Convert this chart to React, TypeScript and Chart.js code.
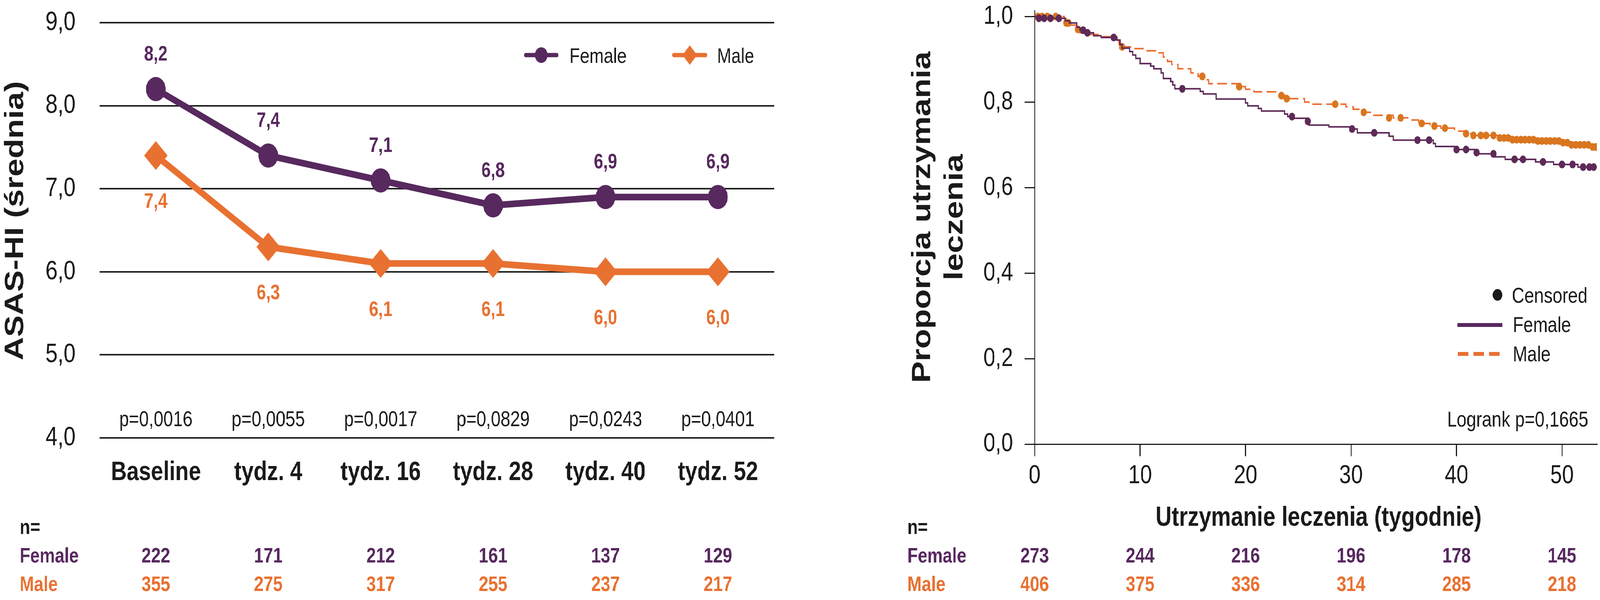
import React, { useEffect, useRef } from 'react';
import { Chart, registerables } from 'chart.js';

Chart.register(...registerables);

// ---------------- Left chart data ----------------
const categories = ['Baseline', 'tydz. 4', 'tydz. 16', 'tydz. 28', 'tydz. 40', 'tydz. 52'];
const femaleMean = [8.2, 7.4, 7.1, 6.8, 6.9, 6.9];
const maleMean = [7.4, 6.3, 6.1, 6.1, 6.0, 6.0];
const pValues = ['p=0,0016', 'p=0,0055', 'p=0,0017', 'p=0,0829', 'p=0,0243', 'p=0,0401'];
const femaleN = [222, 171, 212, 161, 137, 129];
const maleN = [355, 275, 317, 255, 237, 217];
const leftYTicks = [4, 5, 6, 7, 8, 9];

// ---------------- Right chart (Kaplan-Meier) data ----------------
const kmXTicks = [0, 10, 20, 30, 40, 50];
const kmYTicks = [0, 0.2, 0.4, 0.6, 0.8, 1.0];
const kmFemaleAtRisk = [273, 244, 216, 196, 178, 145];
const kmMaleAtRisk = [406, 375, 336, 314, 285, 218];

const femaleKmTime = [0, 0.5, 2.9, 3.3, 4.0, 4.3, 5.0, 5.6, 6.3, 7.8, 8.1, 8.3, 9.0, 9.3, 9.6, 10.0, 11.0, 11.3, 12.0, 12.2, 12.9, 13.1, 13.3, 15.7, 16.0, 17.2, 20.0, 20.2, 21.2, 21.5, 23.7, 24.0, 24.6, 25.8, 26.0, 27.9, 30.0, 30.6, 33.6, 34.0, 37.8, 38.0, 39.8, 41.7, 42.0, 43.6, 44.6, 47.5, 49.2, 51.5, 53.3];
const femaleKmSurv = [1.0, 0.996, 0.99, 0.985, 0.975, 0.968, 0.962, 0.955, 0.951, 0.945, 0.935, 0.926, 0.918, 0.91, 0.902, 0.89, 0.884, 0.878, 0.868, 0.855, 0.848, 0.84, 0.831, 0.825, 0.819, 0.807, 0.798, 0.791, 0.785, 0.779, 0.772, 0.766, 0.762, 0.755, 0.746, 0.742, 0.737, 0.728, 0.72, 0.711, 0.703, 0.696, 0.689, 0.682, 0.679, 0.672, 0.666, 0.66, 0.654, 0.648, 0.648];
const femaleCensorTime = [0.4, 0.9, 1.5, 2.3, 4.6, 5.0, 7.5, 14.0, 24.4, 25.9, 30.1, 32.2, 36.3, 37.4, 40.0, 40.9, 41.9, 43.5, 45.5, 46.3, 48.2, 50.0, 51.0, 52.0, 52.6, 53.0];
const femaleCensorSurv = [0.996, 0.996, 0.996, 0.996, 0.968, 0.962, 0.951, 0.831, 0.766, 0.755, 0.737, 0.728, 0.711, 0.711, 0.689, 0.689, 0.682, 0.679, 0.666, 0.666, 0.66, 0.654, 0.654, 0.648, 0.648, 0.648];

const maleKmTime = [0, 2.8, 3.0, 3.4, 4.0, 4.3, 5.0, 6.0, 7.8, 8.0, 8.4, 9.2, 10.4, 11.8, 12.2, 12.6, 13.0, 13.6, 14.8, 15.5, 16.0, 16.5, 19.5, 20.0, 20.8, 23.3, 23.8, 25.6, 26.0, 29.5, 30.2, 31.0, 32.0, 34.0, 35.5, 36.4, 37.5, 38.5, 39.8, 41.0, 41.4, 44.0, 45.2, 47.5, 49.8, 50.6, 52.2, 53.3];
const maleKmSurv = [1.0, 0.995, 0.985, 0.98, 0.97, 0.962, 0.958, 0.953, 0.945, 0.935, 0.929, 0.925, 0.92, 0.915, 0.905, 0.895, 0.888, 0.878, 0.868, 0.86, 0.852, 0.843, 0.836, 0.83, 0.824, 0.815, 0.808, 0.8, 0.795, 0.789, 0.783, 0.776, 0.769, 0.763, 0.758, 0.75, 0.744, 0.739, 0.732, 0.726, 0.722, 0.716, 0.712, 0.709, 0.705, 0.7, 0.695, 0.695];
const maleCensorTime = [0.3, 0.7, 1.2, 2.0, 3.0, 3.2, 4.1, 8.3, 15.9, 19.4, 23.4, 23.9, 28.5, 31.2, 33.6, 34.7, 36.7, 37.9, 38.9, 40.9, 41.6, 42.3, 42.8, 43.5, 44.1, 44.5, 44.9, 45.3, 45.7, 46.1, 46.5, 46.9, 47.3, 47.7, 48.1, 48.5, 48.9, 49.3, 49.7, 50.1, 50.5, 50.9, 51.3, 51.7, 52.1, 52.5, 52.9, 53.2];
const maleCensorSurv = [1.0, 1.0, 1.0, 1.0, 0.985, 0.985, 0.97, 0.929, 0.86, 0.836, 0.815, 0.808, 0.795, 0.776, 0.763, 0.763, 0.75, 0.744, 0.739, 0.726, 0.722, 0.722, 0.722, 0.722, 0.716, 0.716, 0.716, 0.712, 0.712, 0.712, 0.712, 0.712, 0.712, 0.709, 0.709, 0.709, 0.709, 0.709, 0.709, 0.705, 0.705, 0.7, 0.7, 0.7, 0.7, 0.7, 0.695, 0.695];

// ---------------- Styling ----------------
const FONT = '"Liberation Sans", Arial, Helvetica, sans-serif';
const PURPLE = '#57295E';
const ORANGE = '#E87131';
const KM_PURPLE = '#5E2A58';
const KM_ORANGE = '#EE6A2B';
const KM_ORANGE_MARK = '#D9761F';
const INK = '#1a1a1a';

// reference canvas size (all layout below is in this space)
const W = 5043;
const H = 1536;
const LEFT_W = 2520;
const RIGHT_X = 2560;
const RIGHT_W = W - RIGHT_X;

const fmt1 = (v: number) => Number(v).toFixed(1).replace('.', ',');
const f = (size: number, weight: string = 'normal') => `${weight} ${size}px ${FONT}`;

// ---------------- Left chart plugin ----------------
const leftDecor = {
  id: 'leftDecor',
  afterDatasetsDraw(chart: any) {
    const ctx = chart.ctx as CanvasRenderingContext2D;
    const xs = chart.scales.x;
    const ys = chart.scales.y;
    const bottom = chart.chartArea.bottom;
    ctx.save();
    ctx.textAlign = 'center';
    ctx.textBaseline = 'alphabetic';
    // data labels
    ctx.font = f(53, 'bold');
    ctx.fillStyle = PURPLE;
    femaleMean.forEach((v, i) => ctx.fillText(fmt1(v), xs.getPixelForValue(i), ys.getPixelForValue(v) - 73));
    ctx.fillStyle = ORANGE;
    maleMean.forEach((v, i) => ctx.fillText(fmt1(v), xs.getPixelForValue(i), ys.getPixelForValue(v) + 134));
    // p values
    ctx.font = f(55);
    ctx.fillStyle = INK;
    pValues.forEach((p, i) => ctx.fillText(p, xs.getPixelForValue(i), bottom - 30));
    // n table
    ctx.textAlign = 'left';
    ctx.font = f(54, 'bold');
    ctx.fillStyle = INK;
    ctx.fillText('n=', 62, 1367);
    ctx.fillStyle = PURPLE;
    ctx.fillText('Female', 62, 1440);
    ctx.fillStyle = ORANGE;
    ctx.fillText('Male', 62, 1513);
    ctx.textAlign = 'center';
    ctx.fillStyle = PURPLE;
    femaleN.forEach((n, i) => ctx.fillText(String(n), xs.getPixelForValue(i), 1440));
    ctx.fillStyle = ORANGE;
    maleN.forEach((n, i) => ctx.fillText(String(n), xs.getPixelForValue(i), 1513));
    // legend
    const ly = 141;
    ctx.lineCap = 'round';
    ctx.lineWidth = 11;
    ctx.strokeStyle = PURPLE;
    ctx.beginPath(); ctx.moveTo(1657, ly); ctx.lineTo(1755, ly); ctx.stroke();
    ctx.fillStyle = PURPLE;
    ctx.beginPath(); ctx.arc(1706, ly, 20, 0, Math.PI * 2); ctx.fill();
    ctx.strokeStyle = ORANGE;
    ctx.beginPath(); ctx.moveTo(2124, ly); ctx.lineTo(2224, ly); ctx.stroke();
    ctx.fillStyle = ORANGE;
    ctx.beginPath();
    ctx.moveTo(2174, ly - 25); ctx.lineTo(2197, ly); ctx.lineTo(2174, ly + 25); ctx.lineTo(2151, ly); ctx.closePath(); ctx.fill();
    ctx.textAlign = 'left';
    ctx.font = f(54);
    ctx.fillStyle = INK;
    ctx.fillText('Female', 1795, 161);
    ctx.fillText('Male', 2260, 161);
    // y title
    ctx.save();
    ctx.translate(73, 565);
    ctx.rotate(-Math.PI / 2);
    ctx.textAlign = 'center';
    ctx.font = f(83, 'bold');
    ctx.fillStyle = INK;
    ctx.fillText('ASAS-HI (średnia)', 0, 0);
    ctx.restore();
    ctx.restore();
  },
};

// ---------------- Right chart plugin ----------------
const rightDecor = {
  id: 'rightDecor',
  afterDraw(chart: any) {
    const ctx = chart.ctx as CanvasRenderingContext2D;
    const xs = chart.scales.x;
    const ox = RIGHT_X;
    ctx.save();
    // y title (two lines)
    ctx.save();
    ctx.translate(0, 556);
    ctx.rotate(-Math.PI / 2);
    ctx.textAlign = 'center';
    ctx.textBaseline = 'alphabetic';
    ctx.font = f(83, 'bold');
    ctx.fillStyle = INK;
    ctx.fillText('Proporcja utrzymania', 0, 2932 - ox);
    ctx.fillText('leczenia', 0, 3034 - ox);
    ctx.restore();
    // x title
    ctx.textAlign = 'center';
    ctx.textBaseline = 'alphabetic';
    ctx.font = f(70, 'bold');
    ctx.fillStyle = INK;
    ctx.fillText('Utrzymanie leczenia (tygodnie)', 4156 - ox, 1346);
    // legend
    ctx.fillStyle = INK;
    ctx.beginPath(); ctx.arc(4720 - ox, 755, 15, 0, Math.PI * 2); ctx.fill();
    ctx.lineCap = 'butt';
    ctx.lineWidth = 10;
    ctx.strokeStyle = PURPLE;
    ctx.beginPath(); ctx.moveTo(4594 - ox, 832); ctx.lineTo(4735 - ox, 832); ctx.stroke();
    ctx.strokeStyle = ORANGE;
    ctx.setLineDash([33, 16]);
    ctx.beginPath(); ctx.moveTo(4595 - ox, 906); ctx.lineTo(4730 - ox, 906); ctx.stroke();
    ctx.setLineDash([]);
    ctx.textAlign = 'left';
    ctx.font = f(55);
    ctx.fillStyle = INK;
    ctx.fillText('Censored', 4765 - ox, 775);
    ctx.fillText('Female', 4768 - ox, 850);
    ctx.fillText('Male', 4768 - ox, 925);
    ctx.textAlign = 'right';
    ctx.fillText('Logrank p=0,1665', 5006 - ox, 1092);
    // n table
    ctx.textAlign = 'left';
    ctx.font = f(54, 'bold');
    ctx.fillStyle = INK;
    ctx.fillText('n=', 2860 - ox, 1367);
    ctx.fillStyle = PURPLE;
    ctx.fillText('Female', 2860 - ox, 1440);
    ctx.fillStyle = ORANGE;
    ctx.fillText('Male', 2860 - ox, 1513);
    ctx.textAlign = 'center';
    ctx.fillStyle = PURPLE;
    kmFemaleAtRisk.forEach((n, i) => ctx.fillText(String(n), xs.getPixelForValue(kmXTicks[i]), 1440));
    ctx.fillStyle = ORANGE;
    kmMaleAtRisk.forEach((n, i) => ctx.fillText(String(n), xs.getPixelForValue(kmXTicks[i]), 1513));
    ctx.restore();
  },
};

function leftConfig(): any {
  return {
    type: 'line',
    data: {
      labels: categories,
      datasets: [
        { label: 'Female', data: femaleMean, borderColor: PURPLE, backgroundColor: PURPLE, borderWidth: 17, pointStyle: 'circle', pointRadius: 31, pointBackgroundColor: PURPLE, pointBorderColor: PURPLE, pointBorderWidth: 0, tension: 0 },
        { label: 'Male', data: maleMean, borderColor: ORANGE, backgroundColor: ORANGE, borderWidth: 17, pointStyle: 'rectRot', pointRadius: 37, pointBackgroundColor: ORANGE, pointBorderColor: ORANGE, pointBorderWidth: 0, tension: 0 },
      ],
    },
    options: {
      animation: false,
      responsive: false,
      devicePixelRatio: 1,
      events: [],
      layout: { padding: { left: 0, top: 58, right: LEFT_W - 2440, bottom: 0 } },
      plugins: { legend: { display: false }, tooltip: { enabled: false } },
      scales: {
        x: {
          type: 'category',
          offset: true,
          grid: { display: false, drawTicks: false },
          border: { display: false },
          ticks: { font: { family: FONT, size: 69, weight: 'bold' }, color: INK, padding: 48, maxRotation: 0, autoSkip: false },
          afterFit: (s: any) => { s.height = H - 1121; s.paddingLeft = 0; s.paddingRight = 0; },
        },
        y: {
          type: 'linear',
          min: 4,
          max: 9,
          afterBuildTicks: (s: any) => { s.ticks = leftYTicks.map((v) => ({ value: v })); },
          ticks: { font: { family: FONT, size: 68 }, color: INK, padding: 76, callback: (v: any) => fmt1(v) },
          grid: { color: '#202020', lineWidth: 4, drawTicks: false },
          border: { display: false },
          afterFit: (s: any) => { s.width = 314; s.paddingTop = 0; s.paddingBottom = 0; },
        },
      },
    },
    plugins: [leftDecor],
  };
}

function rightConfig(): any {
  const pts = (ts: number[], ss: number[]) => ts.map((t, i) => ({ x: t, y: ss[i] }));
  return {
    type: 'line',
    data: {
      datasets: [
        { label: 'Female censored', data: pts(femaleCensorTime, femaleCensorSurv), showLine: false, pointRadius: 10, pointStyle: 'circle', pointBackgroundColor: KM_PURPLE, pointBorderWidth: 0 },
        { label: 'Female', data: pts(femaleKmTime, femaleKmSurv), stepped: true, borderColor: KM_PURPLE, borderWidth: 4, pointRadius: 0, fill: false },
        { label: 'Male censored', data: pts(maleCensorTime, maleCensorSurv), showLine: false, pointRadius: 10, pointStyle: 'circle', pointBackgroundColor: KM_ORANGE_MARK, pointBorderWidth: 0 },
        { label: 'Male', data: pts(maleKmTime, maleKmSurv), stepped: true, borderColor: KM_ORANGE, borderWidth: 4, borderDash: [30, 14], pointRadius: 0, fill: false },
      ],
    },
    options: {
      animation: false,
      responsive: false,
      devicePixelRatio: 1,
      events: [],
      layout: { padding: { left: 0, top: 27, right: RIGHT_W - (5040 - RIGHT_X), bottom: 0 } },
      plugins: { legend: { display: false }, tooltip: { enabled: false } },
      scales: {
        x: {
          type: 'linear',
          min: 0,
          max: 53.3,
          afterBuildTicks: (s: any) => { s.ticks = kmXTicks.map((v) => ({ value: v })); },
          ticks: { font: { family: FONT, size: 67 }, color: INK, padding: 10, maxRotation: 0, autoSkip: false },
          grid: { drawOnChartArea: false, drawTicks: true, tickLength: 31, lineWidth: 3, color: INK },
          border: { display: true, width: 3, color: INK },
          afterFit: (s: any) => { s.height = H - 1137; s.paddingLeft = 0; s.paddingRight = 0; },
        },
        y: {
          type: 'linear',
          min: 0,
          max: 1.014,
          afterBuildTicks: (s: any) => { s.ticks = kmYTicks.map((v) => ({ value: v })); },
          ticks: { font: { family: FONT, size: 67 }, color: INK, padding: 37, callback: (v: any) => fmt1(v) },
          grid: { drawOnChartArea: false, drawTicks: true, tickLength: 31, lineWidth: 3, color: INK },
          border: { display: true, width: 3, color: INK },
          afterFit: (s: any) => { s.width = 3261 - RIGHT_X; s.paddingTop = 0; s.paddingBottom = 0; },
        },
      },
    },
    plugins: [rightDecor],
  };
}

export default function App() {
  const leftRef = useRef<HTMLCanvasElement>(null);
  const rightRef = useRef<HTMLCanvasElement>(null);
  // the browser viewport may be smaller than the 5043x1536 reference; map the
  // reference layout proportionally onto whatever viewport is available
  const vw = typeof window !== 'undefined' && window.innerWidth ? window.innerWidth : W;
  const vh = typeof window !== 'undefined' && window.innerHeight ? window.innerHeight : H;
  const sx = Math.min(1, vw / W);
  const sy = Math.min(1, vh / H);
  useEffect(() => {
    document.body.style.margin = '0';
    const l = new Chart(leftRef.current as HTMLCanvasElement, leftConfig());
    const r = new Chart(rightRef.current as HTMLCanvasElement, rightConfig());
    return () => {
      l.destroy();
      r.destroy();
    };
  }, []);
  return (
    <div style={{ position: 'fixed', left: 0, top: 0, width: W * sx, height: H * sy, overflow: 'hidden', background: '#ffffff' }}>
      <div style={{ position: 'absolute', left: 0, top: 0, width: W, height: H, transform: `scale(${sx}, ${sy})`, transformOrigin: '0 0' }}>
        <canvas ref={leftRef} width={LEFT_W} height={H} style={{ position: 'absolute', left: 0, top: 0, width: LEFT_W, height: H }} />
        <canvas ref={rightRef} width={RIGHT_W} height={H} style={{ position: 'absolute', left: RIGHT_X, top: 0, width: RIGHT_W, height: H }} />
      </div>
    </div>
  );
}
